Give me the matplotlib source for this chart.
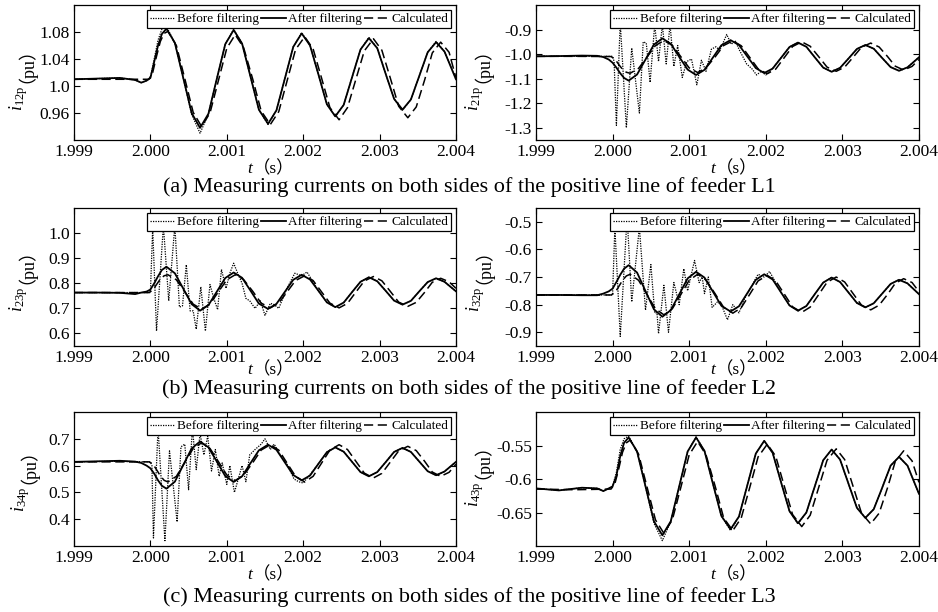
import matplotlib
matplotlib.use("Agg")
from matplotlib import pyplot as plt
from matplotlib import transforms

plt.rcParams["font.family"] = ["Liberation Serif", "Noto Sans CJK SC"]
plt.rcParams["mathtext.fontset"] = "custom"
plt.rcParams["mathtext.rm"] = "Liberation Serif"
plt.rcParams["mathtext.it"] = "Liberation Serif:italic"

# time axis shared by the filtered curves (s)
t_main = [1.9990, 1.9993, 1.9996, 1.9998, 1.99988, 1.99995, 2.00000, 2.00005, 2.00010, 2.00015,
          2.00021, 2.00032, 2.00043, 2.00054, 2.00065, 2.00076, 2.00087, 2.00098, 2.00109, 2.00120,
          2.00131, 2.00142, 2.00154, 2.00165, 2.00176, 2.00187, 2.00198, 2.00209, 2.00220, 2.00231,
          2.00242, 2.00253, 2.00264, 2.00275, 2.00286, 2.00297, 2.00308, 2.00319, 2.00330, 2.00341,
          2.00352, 2.00363, 2.00374, 2.00385, 2.00400]

# time axis of the calculated curves (s)
t_calc = [1.9990, 1.9995, 1.99998, 2.00003, 2.00008, 2.00013, 2.00018, 2.00023, 2.00034, 2.00045,
          2.00056, 2.00067, 2.00078, 2.00089, 2.00100, 2.00111, 2.00122, 2.00134, 2.00145, 2.00157,
          2.00168, 2.00179, 2.00190, 2.00202, 2.00213, 2.00224, 2.00235, 2.00247, 2.00258, 2.00269,
          2.00280, 2.00292, 2.00303, 2.00314, 2.00325, 2.00337, 2.00348, 2.00359, 2.00369, 2.00380,
          2.00391, 2.00400]

# ---- i12p ----
i12p_before = [1.010, 1.011, 1.012, 1.009, 1.005, 1.008, 1.012, 1.040, 1.068, 1.084,
               1.088, 1.064, 1.012, 0.958, 0.930, 0.959, 1.011, 1.062, 1.084, 1.063,
               1.014, 0.965, 0.943, 0.964, 1.011, 1.058, 1.079, 1.060, 1.017, 0.973,
               0.955, 0.972, 1.013, 1.054, 1.072, 1.056, 1.018, 0.981, 0.964, 0.980,
               1.015, 1.050, 1.066, 1.051, 1.010]
i12p_after = [1.010, 1.011, 1.012, 1.009, 1.005, 1.008, 1.012, 1.036, 1.060, 1.077,
              1.085, 1.064, 1.012, 0.960, 0.938, 0.959, 1.011, 1.062, 1.083, 1.063,
              1.014, 0.965, 0.944, 0.964, 1.011, 1.058, 1.078, 1.060, 1.017, 0.973,
              0.955, 0.972, 1.013, 1.054, 1.071, 1.056, 1.018, 0.981, 0.965, 0.980,
              1.015, 1.050, 1.065, 1.051, 1.010]
i12p_calc = [1.010, 1.010, 1.010, 1.020, 1.044, 1.066, 1.078, 1.081, 1.060, 1.011,
             0.961, 0.940, 0.960, 1.008, 1.056, 1.076, 1.057, 1.010, 0.963, 0.943,
             0.962, 1.008, 1.054, 1.073, 1.055, 1.012, 0.968, 0.950, 0.968, 1.010,
             1.052, 1.070, 1.053, 1.012, 0.970, 0.953, 0.969, 1.009, 1.049, 1.065,
             1.050, 1.012]

# ---- i21p ----
t_before_21 = [1.9990, 1.9995, 2.00000, 2.00002, 2.00005, 2.00010, 2.00018, 2.00025, 2.00035, 2.00040,
               2.00044, 2.00049, 2.00055, 2.00060, 2.00065, 2.00070, 2.00075, 2.00080, 2.00085, 2.00091,
               2.00097, 2.00103, 2.00110, 2.00116, 2.00122, 2.00129, 2.00135, 2.00140, 2.00149, 2.00155,
               2.00160, 2.00165, 2.00175, 2.00182, 2.00188, 2.00194, 2.00200, 2.00207, 2.00220, 2.00231,
               2.00242, 2.00253, 2.00264, 2.00275, 2.00286, 2.00297, 2.00308, 2.00319, 2.00330, 2.00341,
               2.00352, 2.00363, 2.00374, 2.00385, 2.00400]
i21p_before = [-1.009, -1.009, -1.009, -1.030, -1.290, -0.870, -1.300, -0.975, -1.240, -0.950,
               -0.955, -1.115, -0.880, -1.030, -0.880, -1.040, -0.880, -1.050, -0.965, -1.095,
               -1.030, -1.020, -1.125, -1.025, -1.070, -0.980, -0.970, -0.985, -0.920, -0.960,
               -0.945, -0.980, -1.040, -1.060, -1.085, -1.070, -1.085, -1.065, -1.015, -0.971,
               -0.953, -0.970, -1.013, -1.055, -1.072, -1.056, -1.018, -0.979, -0.963, -0.978,
               -1.016, -1.053, -1.068, -1.054, -1.013]
i21p_after = [-1.009, -1.008, -1.006, -1.007, -1.012, -1.022, -1.035, -1.055, -1.078, -1.097,
              -1.108, -1.083, -1.022, -0.961, -0.936, -0.958, -1.011, -1.063, -1.085, -1.064,
              -1.014, -0.964, -0.943, -0.963, -1.010, -1.057, -1.077, -1.059, -1.015, -0.971,
              -0.953, -0.970, -1.013, -1.055, -1.072, -1.056, -1.018, -0.979, -0.963, -0.978,
              -1.016, -1.053, -1.068, -1.054, -1.013]
i21p_calc = [-1.009, -1.009, -1.010, -1.020, -1.042, -1.062, -1.074, -1.078, -1.058, -1.012,
             -0.965, -0.945, -0.964, -1.010, -1.056, -1.075, -1.056, -1.011, -0.965, -0.946,
             -0.966, -1.013, -1.060, -1.080, -1.061, -1.015, -0.969, -0.950, -0.968, -1.010,
             -1.053, -1.070, -1.053, -1.013, -0.972, -0.955, -0.971, -1.010, -1.049, -1.065,
             -1.050, -1.022]

# ---- i23p ----
t_before_23 = [1.9990, 1.9995, 2.00000, 2.00003, 2.00008, 2.00017, 2.00024, 2.00032, 2.00038, 2.00042,
               2.00047, 2.00052, 2.00056, 2.00060, 2.00066, 2.00072, 2.00078, 2.00083, 2.00088, 2.00093,
               2.00099, 2.00104, 2.00109, 2.00115, 2.00120, 2.00125, 2.00130, 2.00137, 2.00144, 2.00150,
               2.00157, 2.00162, 2.00168, 2.00178, 2.00189, 2.00198, 2.00205, 2.00220, 2.00231, 2.00242,
               2.00253, 2.00264, 2.00275, 2.00286, 2.00297, 2.00308, 2.00319, 2.00330, 2.00341, 2.00352,
               2.00363, 2.00374, 2.00385, 2.00400]
i23p_before = [0.763, 0.763, 0.763, 1.020, 0.610, 1.030, 0.730, 1.030, 0.705, 0.710,
               0.874, 0.690, 0.690, 0.617, 0.786, 0.610, 0.795, 0.740, 0.695, 0.855,
               0.780, 0.840, 0.880, 0.834, 0.800, 0.740, 0.730, 0.700, 0.730, 0.672,
               0.720, 0.715, 0.700, 0.775, 0.840, 0.830, 0.845, 0.770, 0.724, 0.705,
               0.723, 0.765, 0.806, 0.824, 0.808, 0.770, 0.731, 0.715, 0.730, 0.768,
               0.805, 0.820, 0.806, 0.768]
i23p_after = [0.763, 0.763, 0.762, 0.757, 0.763, 0.767, 0.775, 0.800, 0.828, 0.853,
              0.866, 0.840, 0.779, 0.717, 0.691, 0.713, 0.767, 0.821, 0.843, 0.822,
              0.771, 0.719, 0.698, 0.718, 0.766, 0.814, 0.834, 0.815, 0.770, 0.724,
              0.705, 0.723, 0.765, 0.806, 0.824, 0.808, 0.770, 0.731, 0.715, 0.730,
              0.768, 0.805, 0.820, 0.806, 0.768]
i23p_calc = [0.763, 0.763, 0.763, 0.772, 0.795, 0.817, 0.830, 0.834, 0.814, 0.766,
             0.717, 0.697, 0.717, 0.766, 0.814, 0.834, 0.815, 0.768, 0.721, 0.702,
             0.721, 0.766, 0.811, 0.830, 0.811, 0.766, 0.721, 0.702, 0.720, 0.765,
             0.809, 0.827, 0.810, 0.768, 0.725, 0.708, 0.724, 0.764, 0.804, 0.820,
             0.806, 0.780]

# ---- i32p ----
t_before_32 = [1.9990, 1.9995, 2.00000, 2.00003, 2.00010, 2.00019, 2.00025, 2.00035, 2.00043, 2.00050,
               2.00055, 2.00058, 2.00060, 2.00067, 2.00073, 2.00080, 2.00087, 2.00093, 2.00098, 2.00107,
               2.00113, 2.00117, 2.00120, 2.00125, 2.00130, 2.00137, 2.00142, 2.00150, 2.00157, 2.00165,
               2.00172, 2.00180, 2.00190, 2.00198, 2.00205, 2.00220, 2.00231, 2.00242, 2.00253, 2.00264,
               2.00275, 2.00286, 2.00297, 2.00308, 2.00319, 2.00330, 2.00341, 2.00352, 2.00363, 2.00374,
               2.00385, 2.00400]
i32p_before = [-0.765, -0.765, -0.765, -0.520, -0.915, -0.480, -0.790, -0.520, -0.820, -0.655,
               -0.830, -0.830, -0.905, -0.730, -0.900, -0.720, -0.800, -0.670, -0.750, -0.640,
               -0.720, -0.700, -0.760, -0.700, -0.810, -0.790, -0.800, -0.855, -0.800, -0.830,
               -0.780, -0.740, -0.690, -0.700, -0.680, -0.756, -0.803, -0.822, -0.805, -0.762,
               -0.720, -0.702, -0.718, -0.756, -0.794, -0.810, -0.795, -0.760, -0.725, -0.710,
               -0.723, -0.762]
i32p_after = [-0.765, -0.765, -0.766, -0.766, -0.760, -0.752, -0.742, -0.718, -0.692, -0.670,
              -0.657, -0.684, -0.751, -0.817, -0.844, -0.820, -0.763, -0.705, -0.681, -0.702,
              -0.753, -0.804, -0.825, -0.806, -0.758, -0.710, -0.690, -0.709, -0.756, -0.803,
              -0.822, -0.805, -0.762, -0.720, -0.702, -0.718, -0.756, -0.794, -0.810, -0.795,
              -0.760, -0.725, -0.710, -0.723, -0.762]
i32p_calc = [-0.765, -0.765, -0.765, -0.757, -0.735, -0.712, -0.696, -0.690, -0.712, -0.764,
             -0.815, -0.837, -0.815, -0.764, -0.712, -0.690, -0.711, -0.761, -0.810, -0.831,
             -0.811, -0.763, -0.714, -0.694, -0.714, -0.761, -0.808, -0.828, -0.809, -0.764,
             -0.719, -0.700, -0.718, -0.760, -0.802, -0.819, -0.802, -0.763, -0.723, -0.706,
             -0.720, -0.753]

# ---- i34p ----
t_before_34 = [1.9990, 1.9995, 2.00000, 2.00002, 2.00004, 2.00010, 2.00019, 2.00025, 2.00035, 2.00040,
               2.00045, 2.00050, 2.00055, 2.00060, 2.00065, 2.00070, 2.00075, 2.00080, 2.00085, 2.00090,
               2.00094, 2.00100, 2.00104, 2.00110, 2.00116, 2.00120, 2.00125, 2.00130, 2.00137, 2.00145,
               2.00150, 2.00157, 2.00162, 2.00170, 2.00180, 2.00188, 2.00194, 2.00200, 2.00207, 2.00220,
               2.00231, 2.00242, 2.00253, 2.00264, 2.00275, 2.00286, 2.00297, 2.00308, 2.00319, 2.00330,
               2.00341, 2.00352, 2.00363, 2.00374, 2.00385, 2.00400]
i34p_before = [0.614, 0.616, 0.614, 0.600, 0.330, 0.740, 0.320, 0.655, 0.390, 0.670,
               0.680, 0.510, 0.740, 0.585, 0.720, 0.640, 0.710, 0.580, 0.660, 0.560,
               0.610, 0.530, 0.600, 0.500, 0.560, 0.600, 0.540, 0.640, 0.660, 0.680,
               0.700, 0.660, 0.680, 0.640, 0.600, 0.550, 0.540, 0.535, 0.560, 0.607,
               0.650, 0.668, 0.652, 0.614, 0.576, 0.560, 0.576, 0.613, 0.651, 0.666,
               0.651, 0.615, 0.579, 0.564, 0.578, 0.614]
i34p_after = [0.614, 0.616, 0.618, 0.615, 0.610, 0.600, 0.590, 0.570, 0.545, 0.525,
              0.514, 0.540, 0.602, 0.664, 0.690, 0.668, 0.615, 0.561, 0.539, 0.560,
              0.609, 0.657, 0.678, 0.659, 0.612, 0.565, 0.545, 0.563, 0.607, 0.650,
              0.668, 0.652, 0.614, 0.576, 0.560, 0.576, 0.613, 0.651, 0.666, 0.651,
              0.615, 0.579, 0.564, 0.578, 0.614]
i34p_calc = [0.614, 0.614, 0.614, 0.607, 0.585, 0.562, 0.545, 0.539, 0.560, 0.612,
             0.664, 0.685, 0.664, 0.615, 0.565, 0.544, 0.564, 0.611, 0.658, 0.678,
             0.658, 0.609, 0.560, 0.539, 0.560, 0.609, 0.658, 0.678, 0.660, 0.616,
             0.572, 0.554, 0.571, 0.613, 0.655, 0.672, 0.656, 0.616, 0.576, 0.560,
             0.575, 0.605]

# ---- i43p ----
i43p_before = [-0.614, -0.617, -0.613, -0.614, -0.618, -0.614, -0.611, -0.590, -0.556, -0.540,
               -0.536, -0.559, -0.611, -0.666, -0.692, -0.663, -0.611, -0.559, -0.537, -0.558,
               -0.607, -0.655, -0.677, -0.656, -0.609, -0.562, -0.543, -0.561, -0.605, -0.648,
               -0.667, -0.650, -0.611, -0.572, -0.556, -0.571, -0.607, -0.643, -0.658, -0.645,
               -0.613, -0.580, -0.567, -0.580, -0.622]
i43p_after = [-0.614, -0.617, -0.613, -0.614, -0.618, -0.614, -0.611, -0.595, -0.566, -0.546,
              -0.538, -0.559, -0.611, -0.663, -0.684, -0.663, -0.611, -0.559, -0.538, -0.558,
              -0.607, -0.655, -0.675, -0.656, -0.609, -0.562, -0.543, -0.561, -0.605, -0.648,
              -0.666, -0.650, -0.611, -0.572, -0.556, -0.571, -0.607, -0.643, -0.658, -0.645,
              -0.613, -0.580, -0.567, -0.580, -0.622]
i43p_calc = [-0.615, -0.616, -0.615, -0.607, -0.585, -0.560, -0.546, -0.542, -0.563, -0.612,
             -0.661, -0.681, -0.661, -0.613, -0.564, -0.544, -0.564, -0.611, -0.658, -0.677,
             -0.658, -0.613, -0.567, -0.548, -0.566, -0.610, -0.653, -0.671, -0.654, -0.613,
             -0.572, -0.555, -0.571, -0.611, -0.651, -0.667, -0.651, -0.613, -0.574, -0.558,
             -0.573, -0.605]

# axis ticks
x_ticks = [1.999, 2.000, 2.001, 2.002, 2.003, 2.004]
x_tick_labels = ["1.999", "2.000", "2.001", "2.002", "2.003", "2.004"]
y_ticks_12 = [0.96, 1.0, 1.04, 1.08]
y_labels_12 = ["0.96", "1.0", "1.04", "1.08"]
y_ticks_21 = [-1.3, -1.2, -1.1, -1.0, -0.9]
y_labels_21 = ["-1.3", "-1.2", "-1.1", "-1.0", "-0.9"]
y_ticks_23 = [0.6, 0.7, 0.8, 0.9, 1.0]
y_labels_23 = ["0.6", "0.7", "0.8", "0.9", "1.0"]
y_ticks_32 = [-0.9, -0.8, -0.7, -0.6, -0.5]
y_labels_32 = ["-0.9", "-0.8", "-0.7", "-0.6", "-0.5"]
y_ticks_34 = [0.4, 0.5, 0.6, 0.7]
y_labels_34 = ["0.4", "0.5", "0.6", "0.7"]
y_ticks_43 = [-0.65, -0.6, -0.55]
y_labels_43 = ["-0.65", "-0.6", "-0.55"]

series_names = ["Before filtering", "After filtering", "Calculated"]
captions = ["(a) Measuring currents on both sides of the positive line of feeder L1",
            "(b) Measuring currents on both sides of the positive line of feeder L2",
            "(c) Measuring currents on both sides of the positive line of feeder L3"]


def draw_panel(ax, t_before, before, after, calc, sub, ylim, yticks, ylabels,
               ylab_x, ylab_y, xlab_off):
    ax.plot(t_before, before, color="k", lw=0.9, linestyle=(0, (1, 1)), label=series_names[0])
    ax.plot(t_main, after, color="k", lw=1.3, label=series_names[1])
    ax.plot(t_calc, calc, color="k", lw=1.1, linestyle=(0, (6, 3)), label=series_names[2])

    ax.set_xlim(1.999, 2.004)
    ax.set_ylim(*ylim)
    ax.set_xticks(x_ticks)
    ax.set_xticklabels(x_tick_labels)
    ax.set_yticks(yticks)
    ax.set_yticklabels(ylabels)
    ax.tick_params(direction="in", top=True, right=True, labelsize=12.5, length=4, width=0.8, pad=3)
    for sp in ax.spines.values():
        sp.set_linewidth(0.9)

    # y label: italic symbol (mathtext) + full-width unit part (CJK fallback)
    ax.text(ylab_x, ylab_y, r"$i_{\mathrm{" + sub + "}}$", transform=ax.transAxes, fontsize=13,
            rotation=90, rotation_mode="anchor", ha="right", va="baseline")
    unit_tr = transforms.offset_copy(ax.transAxes, fig=ax.figure, x=0, y=3, units="dots")
    ax.text(ylab_x, ylab_y, "（pu）", transform=unit_tr, fontsize=13,
            rotation=90, rotation_mode="anchor", ha="left", va="baseline")

    # x label
    ax.annotate("$t$", xy=(0.472, 0), xycoords="axes fraction", xytext=(0, xlab_off),
                textcoords="offset pixels", fontsize=12.5, ha="right", va="baseline")
    ax.annotate("（s）", xy=(0.472, 0), xycoords="axes fraction", xytext=(-1, xlab_off),
                textcoords="offset pixels", fontsize=12.5, ha="left", va="baseline")

    leg = ax.legend(ncol=3, loc="upper right", fontsize=9.5, frameon=True, fancybox=False,
                    edgecolor="k", framealpha=1, handlelength=1.9, handletextpad=0.15,
                    columnspacing=0.15, borderpad=0.25, borderaxespad=0.35)
    leg.get_frame().set_linewidth(0.9)


fig = plt.figure(figsize=(9.38, 6.12), dpi=100)

left_x, right_x = 0.0789, 0.5714
width_l, width_r = 0.4072, 0.4083
rows = [(0.7712, 0.2206), (0.4346, 0.2255), (0.1078, 0.2190)]

ax1 = fig.add_axes([left_x, rows[0][0], width_l, rows[0][1]])
ax2 = fig.add_axes([right_x, rows[0][0], width_r, rows[0][1]])
ax3 = fig.add_axes([left_x, rows[1][0], width_l, rows[1][1]])
ax4 = fig.add_axes([right_x, rows[1][0], width_r, rows[1][1]])
ax5 = fig.add_axes([left_x, rows[2][0], width_l, rows[2][1]])
ax6 = fig.add_axes([right_x, rows[2][0], width_r, rows[2][1]])

draw_panel(ax1, t_main, i12p_before, i12p_after, i12p_calc, "12p", (0.92, 1.12),
           y_ticks_12, y_labels_12, -0.135, 0.40, -33)
draw_panel(ax2, t_before_21, i21p_before, i21p_after, i21p_calc, "21p", (-1.35, -0.80),
           y_ticks_21, y_labels_21, -0.150, 0.40, -33)
draw_panel(ax3, t_before_23, i23p_before, i23p_after, i23p_calc, "23p", (0.55, 1.10),
           y_ticks_23, y_labels_23, -0.135, 0.43, -28)
draw_panel(ax4, t_before_32, i32p_before, i32p_after, i32p_calc, "32p", (-0.95, -0.45),
           y_ticks_32, y_labels_32, -0.148, 0.43, -28)
draw_panel(ax5, t_before_34, i34p_before, i34p_after, i34p_calc, "34p", (0.30, 0.80),
           y_ticks_34, y_labels_34, -0.131, 0.44, -33)
draw_panel(ax6, t_main, i43p_before, i43p_after, i43p_calc, "43p", (-0.70, -0.50),
           y_ticks_43, y_labels_43, -0.150, 0.48, -33)

fig.text(0.5, 0.694, captions[0], ha="center", va="center", fontsize=16)
fig.text(0.5, 0.364, captions[1], ha="center", va="center", fontsize=16)
fig.text(0.5, 0.024, captions[2], ha="center", va="center", fontsize=16)

fig.savefig("out.png", dpi=100, facecolor="white")
